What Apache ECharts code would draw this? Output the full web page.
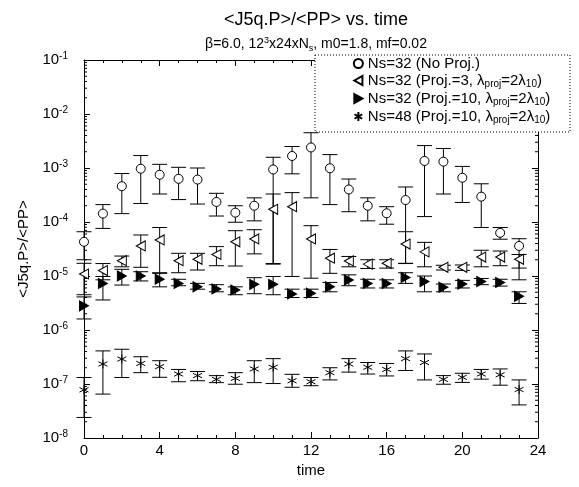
<!DOCTYPE html>
<html><head><meta charset="utf-8">
<script src="https://cdn.jsdelivr.net/npm/echarts@6/dist/echarts.min.js"></script>
<style>html,body{margin:0;padding:0;background:#fff}#c{width:579px;height:487px}</style>
</head><body><div id="c"></div>
<script>
const times = [0,1,2,3,4,5,6,7,8,9,10,11,12,13,14,15,16,17,18,19,20,21,22,23];
const xTicks = [0,4,8,12,16,20,24];

// Ns=32 (No Proj.)
const noProjVal = [4.3e-5,1.43e-4,4.6e-4,9.7e-4,7.5e-4,6.3e-4,6.1e-4,2.35e-4,1.49e-4,2.0e-4,9.4e-4,1.67e-3,2.4e-3,9.9e-4,4.0e-4,2.0e-4,1.45e-4,2.55e-4,1.35e-3,1.31e-3,6.6e-4,2.95e-4,6.3e-5,3.6e-5];
const noProjLo  = [2.0e-5,7.6e-5,1.43e-4,2.2e-4,3.3e-4,2.6e-4,2.15e-4,1.29e-4,9.9e-5,1.05e-4,1.7e-5,7.8e-4,2.8e-4,2.1e-4,1.55e-4,1.05e-4,9.1e-5,1.7e-5,1.26e-4,3.3e-4,2.3e-4,7.9e-5,4.8e-5,8.5e-6];
const noProjHi  = [6.6e-5,2.1e-4,7.9e-4,1.7e-3,1.17e-3,1.03e-3,1.0e-3,3.4e-4,2.0e-4,2.8e-4,1.58e-3,2.5e-3,4.5e-3,1.77e-3,6.25e-4,2.8e-4,1.92e-4,4.45e-4,2.6e-3,2.3e-3,1.07e-3,5.1e-4,7.9e-5,4.9e-5];

// Ns=32 (Proj.=3)
const proj3Val = [1.09e-5,1.26e-5,1.92e-5,3.6e-5,4.65e-5,1.92e-5,2.04e-5,2.5e-5,4.3e-5,4.85e-5,1.72e-4,1.92e-4,4.85e-5,2.14e-5,1.9e-5,1.66e-5,1.72e-5,3.9e-5,2.8e-5,1.45e-5,1.45e-5,2.24e-5,2.24e-5,2.04e-5];
const proj3Lo  = [4.5e-6,8.5e-6,1.48e-5,1.45e-5,1.12e-5,1.15e-5,1.29e-5,1.55e-5,1.53e-5,2.57e-5,1.66e-5,9.8e-6,9.1e-6,1.12e-5,1.48e-5,1.38e-5,1.4e-5,1.72e-5,1.48e-5,1.29e-5,1.27e-5,1.48e-5,1.55e-5,1.4e-5];
const proj3Hi  = [1.72e-5,1.7e-5,2.34e-5,5.75e-5,7.9e-5,2.63e-5,2.63e-5,3.5e-5,6.9e-5,7.2e-5,3.3e-4,3.5e-4,8.55e-5,3.1e-5,2.3e-5,2.0e-5,2.0e-5,6.6e-5,4.2e-5,1.58e-5,1.6e-5,3.0e-5,2.9e-5,2.5e-5];

// Ns=32 (Proj.=10)
const proj10Val = [2.8e-6,7.3e-6,1.0e-5,1.0e-5,8.7e-6,7.3e-6,6.3e-6,5.75e-6,5.5e-6,7.0e-6,7.0e-6,4.65e-6,4.8e-6,6.3e-6,8.4e-6,7.3e-6,7.3e-6,9.4e-6,7.9e-6,6.2e-6,7.1e-6,7.9e-6,7.6e-6,4.2e-6];
const proj10Lo  = [1.6e-6,3.6e-6,6.8e-6,8.1e-6,6.3e-6,6.6e-6,5.7e-6,5.1e-6,4.5e-6,4.7e-6,4.5e-6,4.0e-6,4.0e-6,5.1e-6,6.6e-6,6.0e-6,6.0e-6,7.3e-6,5.1e-6,5.1e-6,6.0e-6,6.9e-6,6.5e-6,3.1e-6];
const proj10Hi  = [4.1e-6,9.8e-6,1.33e-5,1.2e-5,1.15e-5,8.7e-6,7.3e-6,6.9e-6,6.3e-6,9.3e-6,9.8e-6,5.7e-6,5.7e-6,7.6e-6,1.05e-5,8.7e-6,8.5e-6,1.15e-5,1.0e-5,7.1e-6,8.3e-6,9.0e-6,8.7e-6,5.1e-6];

// Ns=48 (Proj.=10)
const ns48Val = [7.8e-8,2.35e-7,2.9e-7,2.4e-7,2.1e-7,1.53e-7,1.43e-7,1.22e-7,1.27e-7,1.9e-7,2.04e-7,1.15e-7,1.1e-7,1.62e-7,2.35e-7,2.04e-7,1.86e-7,2.95e-7,2.5e-7,1.22e-7,1.33e-7,1.53e-7,1.48e-7,7.9e-8];
const ns48Lo  = [2.4e-8,6.5e-8,1.32e-7,1.62e-7,1.33e-7,1.1e-7,1.15e-7,1.06e-7,9.9e-8,1.06e-7,1.02e-7,8.7e-8,9.3e-8,1.19e-7,1.66e-7,1.53e-7,1.41e-7,1.78e-7,1.19e-7,9.9e-8,1.07e-7,1.23e-7,9.5e-8,4.1e-8];
const ns48Hi  = [1.32e-7,4.1e-7,4.4e-7,3.2e-7,2.7e-7,1.86e-7,1.7e-7,1.43e-7,1.62e-7,2.7e-7,2.95e-7,1.51e-7,1.32e-7,2.0e-7,2.95e-7,2.5e-7,2.4e-7,4.1e-7,3.6e-7,1.43e-7,1.58e-7,1.86e-7,1.9e-7,1.19e-7];

const seriesNames = ['Ns=32 (No Proj.)','Ns=32 (Proj.=3, λproj=2λ10)','Ns=32 (Proj.=10, λproj=2λ10)','Ns=48 (Proj.=10, λproj=2λ10)'];
const legendRich = [
  '{a|Ns=32 (No Proj.)}',
  '{a|Ns=32 (Proj.=3, λ}{s|proj}{a|=2λ}{s|10}{a|)}',
  '{a|Ns=32 (Proj.=10, λ}{s|proj}{a|=2λ}{s|10}{a|)}',
  '{a|Ns=48 (Proj.=10, λ}{s|proj}{a|=2λ}{s|10}{a|)}'
];

// minor log ticks (axis decoration)
const minorTickVals = [];
for (let e = -8; e < -1; e++) for (let m = 2; m <= 9; m++) minorTickVals.push(m * Math.pow(10, e));

const FONT = 'Liberation Sans, Arial, sans-serif';

function errSeries(lo, hi) {
  return {
    type: 'custom', z: 2, silent: true, clip: false,
    data: times.map((t, i) => [t, lo[i], hi[i]]),
    encode: { x: 0, y: [1, 2] },
    renderItem: function (params, api) {
      const t = api.value(0);
      const a = api.coord([t, api.value(1)]);
      const b = api.coord([t, api.value(2)]);
      const w = 7.5;
      const st = { stroke: '#000', lineWidth: 1 };
      return { type: 'group', children: [
        { type: 'line', shape: { x1: a[0], y1: a[1], x2: b[0], y2: b[1] }, style: st },
        { type: 'line', shape: { x1: a[0] - w, y1: a[1], x2: a[0] + w, y2: a[1] }, style: st },
        { type: 'line', shape: { x1: b[0] - w, y1: b[1], x2: b[0] + w, y2: b[1] }, style: st }
      ]};
    }
  };
}

function scatter(name, vals, symbol, size, fill) {
  return {
    name: name, type: 'scatter', z: 3,
    data: times.map((t, i) => [t, vals[i]]),
    symbol: symbol, symbolSize: size,
    itemStyle: { color: fill, borderColor: '#000', borderWidth: 1, opacity: 1 },
    emphasis: { disabled: true }
  };
}

const chart = echarts.init(document.getElementById('c'), null, { renderer: 'canvas' });
const axisLineStyle = { color: '#000', width: 1 };
chart.setOption({
  animation: false,
  backgroundColor: '#fff',
  textStyle: { fontFamily: FONT, color: '#000' },
  title: {
    text: '<J5q.P>/<PP> vs. time',
    left: 311, top: 6, textAlign: 'center', itemGap: 7,
    textStyle: { fontFamily: FONT, fontSize: 18, fontWeight: 'normal', color: '#000' },
    subtext: '{a|β=6.0, 12}{p|3}{a|x24xN}{b|s}{a|, m0=1.8, mf=0.02}',
    subtextStyle: {
      fontFamily: FONT, color: '#000',
      rich: {
        a: { fontFamily: FONT, fontSize: 14, color: '#000', lineHeight: 17 },
        p: { fontFamily: FONT, fontSize: 9, color: '#000', verticalAlign: 'top', lineHeight: 8 },
        b: { fontFamily: FONT, fontSize: 9, color: '#000', verticalAlign: 'bottom', lineHeight: 7 }
      }
    }
  },
  grid: { left: 84, right: 41, top: 60, bottom: 49, containLabel: false },
  xAxis: [{
    type: 'value', min: 0, max: 24, interval: 4,
    name: 'time', nameLocation: 'middle', nameGap: 22,
    nameTextStyle: { fontFamily: FONT, fontSize: 15, color: '#000' },
    axisLine: { show: true, onZero: false, lineStyle: axisLineStyle },
    axisTick: { show: true, inside: true, length: 6, lineStyle: axisLineStyle },
    minorTick: { show: true, splitNumber: 4, length: 3, lineStyle: axisLineStyle },
    axisLabel: { fontFamily: FONT, fontSize: 15, color: '#000', margin: 5,
      formatter: v => xTicks.indexOf(v) >= 0 ? String(v) : '' },
    splitLine: { show: false }
  }, {
    type: 'value', min: 0, max: 24, interval: 4, position: 'top',
    axisLine: { show: true, onZero: false, lineStyle: axisLineStyle },
    axisTick: { show: true, inside: true, length: 6, lineStyle: axisLineStyle },
    minorTick: { show: true, splitNumber: 4, length: 3, lineStyle: axisLineStyle },
    axisLabel: { show: false }, splitLine: { show: false }
  }],
  yAxis: [{
    type: 'log', logBase: 10, min: 1e-8, max: 1e-1, splitNumber: 7,
    name: '<J5q.P>/<PP>', nameLocation: 'middle', nameGap: 48,
    nameTextStyle: { fontFamily: FONT, fontSize: 15, color: '#000' },
    axisLine: { show: true, onZero: false, lineStyle: axisLineStyle },
    axisTick: { show: true, inside: true, length: 6, lineStyle: axisLineStyle },
    axisLabel: {
      margin: 16, fontFamily: FONT, color: '#000',
      formatter: v => '{a|10}{p|' + Math.round(Math.log10(v)) + '}',
      rich: {
        a: { fontFamily: FONT, fontSize: 15, color: '#000', lineHeight: 18 },
        p: { fontFamily: FONT, fontSize: 10, color: '#000', verticalAlign: 'top', lineHeight: 9 }
      }
    },
    splitLine: { show: false }
  }, {
    type: 'log', logBase: 10, min: 1e-8, max: 1e-1, splitNumber: 7, position: 'right',
    axisLine: { show: true, onZero: false, lineStyle: axisLineStyle },
    axisTick: { show: true, inside: true, length: 6, lineStyle: axisLineStyle },
    axisLabel: { show: false }, splitLine: { show: false }
  }],
  legend: {
    orient: 'vertical', left: 352, top: 56, padding: 0, itemGap: 2,
    itemWidth: 9, itemHeight: 9, z: 6,
    data: seriesNames,
    formatter: name => legendRich[seriesNames.indexOf(name)],
    textStyle: {
      fontFamily: FONT, color: '#000',
      rich: {
        a: { fontFamily: FONT, fontSize: 15, color: '#000', lineHeight: 17 },
        s: { fontFamily: FONT, fontSize: 10, color: '#000', verticalAlign: 'bottom', lineHeight: 6 }
      }
    },
    selectedMode: false
  },
  graphic: [{
    type: 'rect', z: 5, silent: true,
    shape: { x: 315, y: 55, width: 255, height: 77 },
    style: { fill: '#fff', stroke: '#000', lineWidth: 1, lineDash: [1, 2] }
  }],
  series: [
    {
      type: 'custom', silent: true, z: 1, clip: false,
      data: minorTickVals.map(v => [0, v]),
      encode: { x: 0, y: 1 },
      renderItem: function (params, api) {
        const v = api.value(1);
        const l = api.coord([0, v]);
        const r = api.coord([24, v]);
        const st = { stroke: '#000', lineWidth: 1 };
        return { type: 'group', children: [
          { type: 'line', shape: { x1: l[0], y1: l[1], x2: l[0] + 3, y2: l[1] }, style: st },
          { type: 'line', shape: { x1: r[0] - 3, y1: r[1], x2: r[0], y2: r[1] }, style: st }
        ]};
      }
    },
    errSeries(noProjLo, noProjHi),
    errSeries(proj3Lo, proj3Hi),
    errSeries(proj10Lo, proj10Hi),
    errSeries(ns48Lo, ns48Hi),
    scatter(seriesNames[0], noProjVal, 'circle', 9, '#fff'),
    scatter(seriesNames[1], proj3Val, 'path://M0,5 L9,0 L9,10 Z', [9, 10], '#fff'),
    scatter(seriesNames[2], proj10Val, 'path://M0,0 L9,5 L0,10 Z', [9, 10], '#000'),
    scatter(seriesNames[3], ns48Val, 'path://M5,0 L5,10 M0.7,2.5 L9.3,7.5 M0.7,7.5 L9.3,2.5', 9, 'none')
  ]
});
</script></body></html>
